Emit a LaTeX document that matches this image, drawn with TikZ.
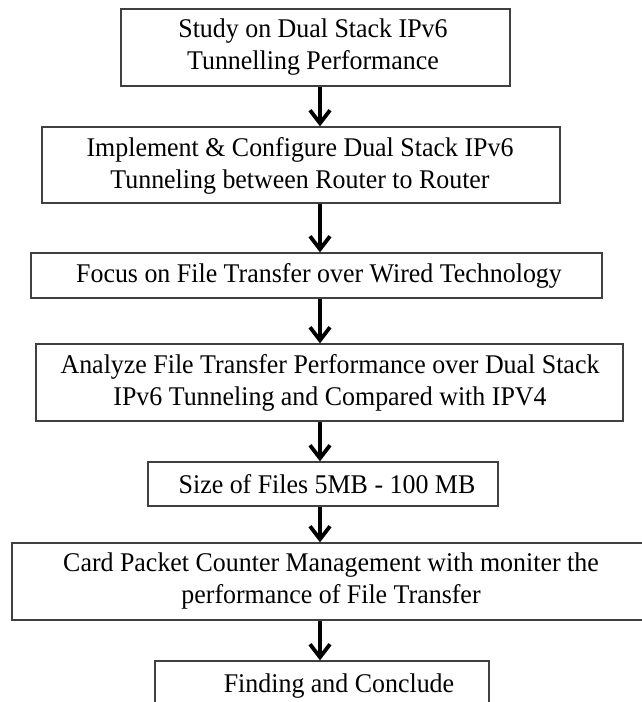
\documentclass[tikz,border=0pt]{standalone}
\usepackage{fontspec}
\setmainfont[FakeStretch=0.96]{Liberation Serif}
\usetikzlibrary{arrows.meta}
\begin{document}
\begin{tikzpicture}[x=1pt,y=-1pt,
  box/.style={draw=black!75, line width=1.3pt, inner sep=0pt, rectangle},
  txt/.style={font=\fontsize{27}{31.5}\selectfont, align=center, inner sep=0pt, text=black},
  flow/.style={line width=3.8pt, -{Straight Barb[length=13pt,width=20pt,line width=3.8pt]}}]
\useasboundingbox (0,0) rectangle (642,702);
\coordinate (axis) at (320,0);
% boxes
\node[box, minimum width=389pt, minimum height=77pt] (b1) at (315.5,47.5) {};
\node[box, minimum width=518pt, minimum height=76pt] (b2) at (301,165) {};
\node[box, minimum width=571pt, minimum height=45pt] (b3) at (316.5,275.5) {};
\node[box, minimum width=587pt, minimum height=77pt] (b4) at (329.5,382.5) {};
\node[box, minimum width=350pt, minimum height=44pt] (b5) at (323,484) {};
\node[box, minimum width=638pt, minimum height=77pt] (b6) at (331,581.5) {};
\node[box, minimum width=334pt, minimum height=79pt] (b7) at (322,700.5) {};
% texts
\node[txt] (t1) at (313,47) {Study on Dual Stack IPv6\\Tunnelling Performance};
\node[txt] (t2) at (300,166) {Implement \& Configure Dual Stack IPv6\\Tunneling between Router to Router};
\node[txt] (t3) at (319,276) {Focus on File Transfer over Wired Technology};
\node[txt] (t4) at (330,383) {Analyze File Transfer Performance over Dual Stack\\IPv6 Tunneling and Compared with IPV4};
\node[txt] (t5) at (327,484) {Size of Files 5MB - 100 MB};
\node[txt] (t6) at (331,581) {Card Packet Counter Management with moniter the\\performance of File Transfer};
\node[txt, anchor=base] (t7) at (339,692) {Finding and Conclude};
% arrows
\draw[flow] (b1.south -| axis) -- (b2.north -| axis);
\draw[flow] (b2.south -| axis) -- (b3.north -| axis);
\draw[flow] (b3.south -| axis) -- (b4.north -| axis);
\draw[flow] (b4.south -| axis) -- (b5.north -| axis);
\draw[flow] (b5.south -| axis) -- (b6.north -| axis);
\draw[flow] (b6.south -| axis) -- (b7.north -| axis);
\end{tikzpicture}
\end{document}
